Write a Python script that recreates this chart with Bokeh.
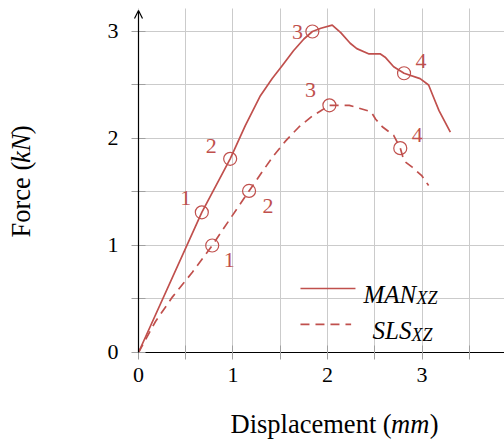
import math
from bokeh.plotting import figure
from bokeh.models import Range1d, FixedTicker, Label, Arrow, OpenHead, ColumnDataSource, Grid
from bokeh.core.properties import value
from bokeh.embed import file_html
from bokeh.resources import INLINE

# ---- data ----
man_x = [0, 0.67, 0.97, 1.13, 1.29, 1.415, 1.52, 1.64, 1.75, 1.84, 1.93, 2.05, 2.14, 2.24,
         2.31, 2.44, 2.56, 2.61, 2.70, 2.81, 2.98, 3.07, 3.12, 3.18, 3.30]
man_y = [0, 1.31, 1.81, 2.12, 2.40, 2.56, 2.68, 2.82, 2.93, 3.00, 3.03, 3.06, 2.99, 2.89,
         2.84, 2.79, 2.79, 2.76, 2.67, 2.61, 2.56, 2.50, 2.39, 2.26, 2.06]
sls_x = [0, 0.18, 0.36, 0.57, 0.78, 0.97, 1.17, 1.31, 1.43, 1.56, 1.70, 1.84, 1.93, 2.02,
         2.23, 2.31, 2.46, 2.51, 2.58, 2.70, 2.77, 2.81, 2.90, 3.00, 3.07]
sls_y = [0, 0.29, 0.52, 0.75, 1.00, 1.25, 1.51, 1.69, 1.84, 1.98, 2.11, 2.21, 2.26, 2.31,
         2.31, 2.29, 2.25, 2.18, 2.11, 2.03, 1.91, 1.79, 1.73, 1.65, 1.56]

man_mx = [0.67, 0.97, 1.84, 2.81]
man_my = [1.31, 1.81, 3.00, 2.61]
sls_mx = [0.78, 1.17, 2.02, 2.77]
sls_my = [1.00, 1.51, 2.31, 1.91]
point_labels = ["1", "2", "3", "4"]

x_ticks = [0, 1, 2, 3]
x_minor = [0.5, 1.5, 2.5, 3.5]
y_ticks = [0, 1, 2, 3]
y_minor = [0.5, 1.5, 2.5]

# label offsets in screen px (style; +y is down)
man_dx = [-16, -19, -15, 17]
man_dy = [-14, -13, 1, -12]
sls_dx = [17, 19, -19, 17]
sls_dy = [15, 15, -15, -13]

RED = "#c0504d"
FONT = "Liberation Serif"

X_END = 3.873
Y_TOP = 3.215

p = figure(width=504, height=441, output_backend="svg", toolbar_location=None,
           x_range=Range1d(-1.4603, X_END), y_range=Range1d(-0.8318, 3.2897),
           min_border_left=0, min_border_right=0, min_border_top=0, min_border_bottom=0)
p.outline_line_color = None
p.background_fill_color = "white"
p.border_fill_color = "white"

for ax, t, m, b in ((p.xaxis[0], x_ticks, x_minor, (0, X_END)), (p.yaxis[0], y_ticks, y_minor, (0, Y_TOP))):
    ax.fixed_location = 0
    ax.bounds = b
    ax.ticker = FixedTicker(ticks=t, minor_ticks=m)
    ax.major_tick_in = 7
    ax.major_tick_out = 7
    ax.minor_tick_in = 7
    ax.minor_tick_out = 7
    ax.major_tick_line_color = "#a0a0a0"
    ax.minor_tick_line_color = "#a0a0a0"
    ax.major_label_text_font = FONT
    ax.major_label_text_font_size = "22px"
    ax.major_label_text_color = "black"
    ax.axis_line_color = "black"
    ax.axis_line_width = 1.2
p.xaxis.major_label_standoff = 9
p.yaxis.major_label_standoff = 13
p.yaxis.axis_line_color = None

p.xgrid.ticker = FixedTicker(ticks=x_ticks, minor_ticks=x_minor)
p.ygrid.ticker = FixedTicker(ticks=y_ticks, minor_ticks=y_minor)
has_cross = "cross_bounds" in Grid.properties()
for g, cb in ((p.xgrid[0], (0, Y_TOP)), (p.ygrid[0], (0, X_END))):
    g.grid_line_color = "#cbcbcb"
    g.minor_grid_line_color = "#cbcbcb"
    g.grid_line_width = 1
    g.minor_grid_line_width = 1
    if has_cross:
        g.cross_bounds = cb
    else:
        g.visible = False
if not has_cross:
    gx = x_ticks + x_minor
    gy = y_ticks + y_minor
    p.segment(x0=gx, y0=[0] * len(gx), x1=gx, y1=[Y_TOP] * len(gx), line_color="#cbcbcb", line_width=1, level="underlay")
    p.segment(x0=[0] * len(gy), y0=gy, x1=[X_END] * len(gy), y1=gy, line_color="#cbcbcb", line_width=1, level="underlay")

# y axis with arrow
p.add_layout(Arrow(x_start=0, y_start=0, x_end=0, y_end=3.196, line_color="black", line_width=1.2,
                   end=OpenHead(size=8, line_color="black", line_width=1.2)))

# curves
p.line(man_x, man_y, line_color=RED, line_width=1.7, line_join="round")
p.line(sls_x, sls_y, line_color=RED, line_width=1.7, line_dash="9 6", line_join="round")

# markers
p.scatter(man_mx, man_my, marker="circle", size=13, fill_color=None, line_color=RED, line_width=1.2)
p.scatter(sls_mx, sls_my, marker="circle", size=13, fill_color=None, line_color=RED, line_width=1.2)

src_m = ColumnDataSource(dict(x=man_mx, y=man_my, t=point_labels, dx=man_dx, dy=man_dy))
src_s = ColumnDataSource(dict(x=sls_mx, y=sls_my, t=point_labels, dx=sls_dx, dy=sls_dy))
for s in (src_m, src_s):
    p.text(x="x", y="y", text="t", x_offset="dx", y_offset="dy", source=s,
           text_font=value(FONT), text_font_size="22px", text_color=RED,
           text_align="center", text_baseline="middle")

# legend (manual, for subscripts)
p.line([1.714, 2.296], [0.598, 0.598], line_color=RED, line_width=1.7)
p.line([1.714, 2.250], [0.262, 0.262], line_color=RED, line_width=1.7, line_dash="9 6")
for txt, x, y, size in (("MAN", 2.381, 0.545, "25px"), ("XZ", 2.942, 0.508, "18px"),
                        ("SLS", 2.476, 0.206, "25px"), ("XZ", 2.889, 0.168, "18px")):
    p.add_layout(Label(x=x, y=y, text=txt, text_font=FONT, text_font_size=size,
                       text_font_style="italic", text_color="black",
                       text_align="left", text_baseline="alphabetic"))

# axis titles (manual, for italic units)
fs = "26.5px"
for txt, x, style in (("Displacement (", 0.974, "normal"), ("mm", 2.672, "italic"), (")", 3.082, "normal")):
    p.add_layout(Label(x=x, y=-0.672, text=txt, text_font=FONT, text_font_size=fs,
                       text_font_style=style, text_color="black",
                       text_align="left", text_baseline="alphabetic"))
for txt, y, style in (("Force (", 1.075, "normal"), ("kN", 1.770, "italic"), (")", 2.040, "normal")):
    p.add_layout(Label(x=-1.240, y=y, text=txt, text_font=FONT, text_font_size=fs,
                       text_font_style=style, text_color="black", angle=math.pi / 2,
                       text_align="left", text_baseline="alphabetic"))

open("out.html", "w").write(file_html(p, INLINE))
